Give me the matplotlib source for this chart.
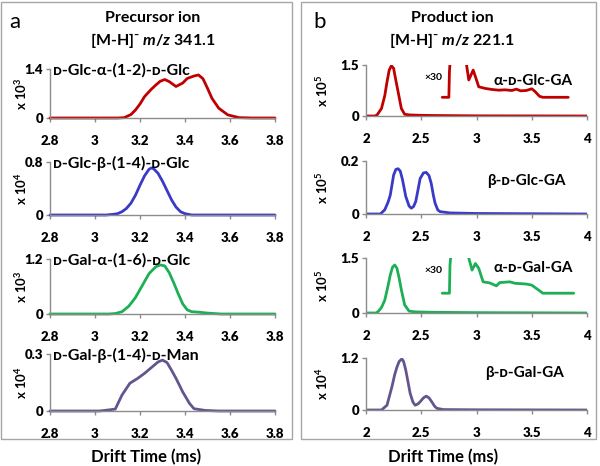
import matplotlib
matplotlib.use("Agg")
import matplotlib.pyplot as plt
from matplotlib.patches import Rectangle

FONT = ['Lato', 'DejaVu Sans']
plt.rcParams['font.family'] = FONT
plt.rcParams['mathtext.fontset'] = 'custom'
plt.rcParams['mathtext.rm'] = 'Lato:bold'
plt.rcParams['mathtext.bf'] = 'Lato:bold'
plt.rcParams['mathtext.it'] = 'Lato:bold:italic'

# ---------------- data ----------------
# Panel a: precursor ion, m/z 341.1
left_xticks = [2.8, 3, 3.2, 3.4, 3.6, 3.8]
left_xticklabels = ["2.8", "3", "3.2", "3.4", "3.6", "3.8"]

glc_a12_x = [2.8, 3.10, 3.13, 3.16, 3.18, 3.20, 3.22, 3.25, 3.27, 3.29, 3.31, 3.33, 3.36,
             3.39, 3.41, 3.44, 3.46, 3.48, 3.50, 3.52, 3.55, 3.59, 3.64, 3.70, 3.8]
glc_a12_y = [0, 0, 0.01, 0.10, 0.23, 0.40, 0.61, 0.82, 0.94, 1.05, 1.10, 1.04, 0.90,
             1.00, 1.13, 1.20, 1.23, 1.12, 0.85, 0.56, 0.28, 0.09, 0.01, 0, 0]

glc_b14_x = [2.8, 3.05, 3.08, 3.10, 3.12, 3.14, 3.16, 3.18, 3.20, 3.22, 3.24, 3.25, 3.26,
             3.28, 3.30, 3.32, 3.34, 3.36, 3.38, 3.40, 3.43, 3.8]
glc_b14_y = [0, 0, 0.01, 0.02, 0.05, 0.10, 0.18, 0.30, 0.45, 0.59, 0.69, 0.71, 0.70,
             0.63, 0.51, 0.37, 0.23, 0.12, 0.05, 0.02, 0, 0]

gal_a16_x = [2.8, 3.06, 3.09, 3.12, 3.15, 3.18, 3.21, 3.24, 3.27, 3.29, 3.31, 3.33, 3.35,
             3.37, 3.39, 3.41, 3.43, 3.46, 3.50, 3.56, 3.8]
gal_a16_y = [0, 0, 0.01, 0.05, 0.17, 0.36, 0.62, 0.88, 1.03, 1.07, 1.05, 0.90, 0.68,
             0.44, 0.22, 0.09, 0.05, 0.04, 0.02, 0, 0]

gal_b14_man_x = [2.8, 3.02, 3.05, 3.09, 3.12, 3.155, 3.19, 3.22, 3.25, 3.28, 3.30, 3.32,
                 3.34, 3.36, 3.39, 3.42, 3.44, 3.49, 3.55, 3.8]
gal_b14_man_y = [0, 0, 0.004, 0.01, 0.084, 0.146, 0.172, 0.198, 0.228, 0.258, 0.268, 0.255,
                 0.215, 0.172, 0.10, 0.04, 0.012, 0.003, 0, 0]

left_labels = ["ᴅ-Glc-α-(1-2)-ᴅ-Glc", "ᴅ-Glc-β-(1-4)-ᴅ-Glc",
               "ᴅ-Gal-α-(1-6)-ᴅ-Glc", "ᴅ-Gal-β-(1-4)-ᴅ-Man"]
left_ymax = [1.4, 0.8, 1.2, 0.3]
left_ymax_labels = ["1.4", "0.8", "1.2", "0.3"]
left_exp = ["3", "4", "3", "4"]

# Panel b: product ion, m/z 221.1
right_xticks = [2, 2.5, 3, 3.5, 4]
right_xticklabels = ["2", "2.5", "3", "3.5", "4"]

aglc_x = [2.0, 2.08, 2.10, 2.14, 2.17, 2.19, 2.21, 2.23, 2.25, 2.27, 2.29, 2.32, 2.35,
          2.40, 2.50, 2.60, 2.80, 3.0, 4.0]
aglc_y = [0, 0, 0.03, 0.22, 0.60, 1.00, 1.35, 1.48, 1.40, 1.05, 0.72, 0.22, 0.05,
          0.03, 0.02, 0.015, 0.01, 0.005, 0]
aglc_x30_x = [2.69, 2.75, 2.755, 2.77, 2.90, 2.91, 2.93, 2.97, 2.995, 3.02, 3.08, 3.14,
              3.20, 3.26, 3.32, 3.36, 3.40, 3.45, 3.50, 3.53, 3.57, 3.60, 3.70, 3.83]
aglc_x30_y = [0.55, 0.55, 1.3, 2.0, 2.0, 1.5, 1.06, 1.35, 1.11, 0.86, 0.81, 0.78,
              0.76, 0.77, 0.75, 0.79, 0.74, 0.75, 0.80, 0.72, 0.58, 0.55, 0.55, 0.55]

bglc_x = [2.0, 2.13, 2.17, 2.20, 2.22, 2.25, 2.27, 2.29, 2.31, 2.33, 2.36, 2.39, 2.41,
          2.43, 2.45, 2.47, 2.49, 2.52, 2.545, 2.57, 2.59, 2.61, 2.625, 2.65, 2.67, 2.76,
          3.0, 4.0]
bglc_y = [0, 0, 0.016, 0.045, 0.072, 0.147, 0.168, 0.171, 0.162, 0.13, 0.066, 0.03, 0.022,
          0.028, 0.047, 0.09, 0.134, 0.155, 0.157, 0.145, 0.116, 0.07, 0.041, 0.015, 0.009,
          0.004, 0.002, 0]

agal_x = [2.0, 2.09, 2.11, 2.14, 2.17, 2.20, 2.22, 2.24, 2.26, 2.28, 2.30, 2.32, 2.35,
          2.39, 2.45, 2.60, 3.0, 4.0]
agal_y = [0, 0, 0.04, 0.15, 0.35, 0.75, 1.04, 1.25, 1.31, 1.22, 0.95, 0.63, 0.22,
          0.05, 0.03, 0.02, 0.01, 0.0]
agal_x30_x = [2.69, 2.755, 2.76, 2.78, 2.92, 2.93, 2.96, 2.99, 3.02, 3.06, 3.12, 3.18,
              3.21, 3.26, 3.30, 3.35, 3.40, 3.45, 3.50, 3.56, 3.60, 3.70, 3.88]
agal_x30_y = [0.54, 0.54, 1.3, 2.0, 2.0, 1.5, 1.17, 1.35, 1.22, 0.85, 0.82, 0.74,
              0.83, 0.84, 0.85, 0.81, 0.80, 0.79, 0.76, 0.63, 0.54, 0.54, 0.54]

bgal_x = [2.0, 2.14, 2.19, 2.235, 2.26, 2.28, 2.30, 2.325, 2.34, 2.36, 2.38, 2.40, 2.425,
          2.445, 2.47, 2.49, 2.52, 2.545, 2.57, 2.595, 2.62, 2.64, 2.70, 3.0, 4.0]
bgal_y = [0, 0, 0.11, 0.54, 0.82, 0.99, 1.12, 1.18, 1.12, 0.92, 0.65, 0.38, 0.18,
          0.11, 0.14, 0.19, 0.28, 0.32, 0.28, 0.19, 0.09, 0.04, 0.01, 0.005, 0]

right_labels = ["α-ᴅ-Glc-GA", "β-ᴅ-Glc-GA", "α-ᴅ-Gal-GA", "β-ᴅ-Gal-GA"]
right_ymax = [1.5, 0.2, 1.5, 1.2]
right_ymax_labels = ["1.5", "0.2", "1.5", "1.2"]
right_exp = ["5", "5", "5", "4"]

colors = ["#C00000", "#3A3AC8", "#1DAF55", "#65558F"]

# ---------------- figure ----------------
W, H = 600, 466
fig = plt.figure(figsize=(6.0, 4.66), dpi=100)

def fx(px):
    return px / W

def fy(py):
    return 1 - py / H

# panel boxes
for (x0, x1) in [(1, 292), (301, 596)]:
    fig.patches.append(Rectangle((fx(x0), fy(439)), fx(x1 - x0), (439 - 2) / H,
                                 transform=fig.transFigure, fill=False,
                                 edgecolor="#A6A6A6", lw=1.0))

left_rows = [(69, 118), (162, 215), (259, 314), (354, 411)]
right_rows = [(65, 116), (161, 214), (258, 313), (358, 410)]

left_series = [(glc_a12_x, glc_a12_y), (glc_b14_x, glc_b14_y),
               (gal_a16_x, gal_a16_y), (gal_b14_man_x, gal_b14_man_y)]
right_series = [(aglc_x, aglc_y), (bglc_x, bglc_y), (agal_x, agal_y), (bgal_x, bgal_y)]
right_insets = {0: (aglc_x30_x, aglc_x30_y), 2: (agal_x30_x, agal_x30_y)}


def style_axes(ax, xticks, xlabels, ymax, ymax_label, exp, ylab_x):
    ax.set_facecolor("none")
    for s in ["top", "right"]:
        ax.spines[s].set_visible(False)
    for s in ["left", "bottom"]:
        ax.spines[s].set_color("#8C8C8C")
        ax.spines[s].set_linewidth(1.0)
    ax.set_xticks(xticks)
    ax.set_xticklabels(xlabels)
    ax.set_yticks([0, ymax])
    ax.set_yticklabels(["0", ymax_label])
    ax.tick_params(axis="both", direction="out", length=3, width=1.0, color="#8C8C8C",
                   labelsize=9.5, pad=2)
    ax.tick_params(axis="x", pad=9.5)
    for lab in ax.get_xticklabels() + ax.get_yticklabels():
        lab.set_fontweight("heavy")
    ax.set_ylim(0, ymax)
    ax.text(ylab_x, 0.5, "x 10$^{\\bf " + exp + "}$", transform=ax.transAxes,
            rotation=90, ha="center", va="center", fontsize=9.5, fontweight="bold")


for i, (top, bot) in enumerate(left_rows):
    ax = fig.add_axes([fx(50), fy(bot), fx(275 - 50), (bot - top) / H])
    x, y = left_series[i]
    ax.plot(x, y, color=colors[i], lw=2.0, solid_joinstyle="round", solid_capstyle="round",
            clip_on=False)
    ax.set_xlim(2.8, 3.8)
    style_axes(ax, left_xticks, left_xticklabels, left_ymax[i], left_ymax_labels[i],
               left_exp[i], -0.13)
    ax.text(0.012, 0.98, left_labels[i], transform=ax.transAxes, ha="left", va="center",
            fontsize=11.5, fontweight="bold", family=FONT)

for i, (top, bot) in enumerate(right_rows):
    ax = fig.add_axes([fx(366), fy(bot), fx(587 - 366), (bot - top) / H])
    x, y = right_series[i]
    ax.plot(x, y, color=colors[i], lw=2.0, solid_joinstyle="round", solid_capstyle="round")
    if i in right_insets:
        xi, yi = right_insets[i]
        ax.plot(xi, yi, color=colors[i], lw=2.0, solid_joinstyle="round",
                solid_capstyle="round")
        ax.text(2.61, (0.76 if i == 0 else 0.78) * right_ymax[i], "×30",
                ha="center", va="center", fontsize=7.5, fontweight="bold")
    ax.set_xlim(2, 4)
    style_axes(ax, right_xticks, right_xticklabels, right_ymax[i], right_ymax_labels[i],
               right_exp[i], -0.2)
    ypos = [0.68, 0.62, 0.82, 0.72][i]
    xpos = [0.575, 0.55, 0.575, 0.54][i]
    ax.text(xpos, ypos, right_labels[i], transform=ax.transAxes, ha="left", va="center",
            fontsize=11, fontweight="bold", family=FONT)

# titles
fig.text(fx(15), fy(22), "a", fontsize=16, ha="center", va="center")
fig.text(fx(320), fy(22), "b", fontsize=16, ha="center", va="center")
fig.text(fx(153), fy(18), "Precursor ion", fontsize=11.5, fontweight="bold",
         ha="center", va="center")
fig.text(fx(153), fy(41), "[M-H]⁻ $\\it m/z$ 341.1", fontsize=11.5,
         fontweight="bold", ha="center", va="center")
fig.text(fx(452), fy(18), "Product ion", fontsize=11.5, fontweight="bold",
         ha="center", va="center")
fig.text(fx(452), fy(41), "[M-H]⁻ $\\it m/z$ 221.1", fontsize=11.5,
         fontweight="bold", ha="center", va="center")
fig.text(fx(146), fy(457), "Drift Time (ms)", fontsize=12, fontweight="bold",
         ha="center", va="center")
fig.text(fx(443), fy(457), "Drift Time (ms)", fontsize=12, fontweight="bold",
         ha="center", va="center")

fig.savefig("out.png", dpi=100)
